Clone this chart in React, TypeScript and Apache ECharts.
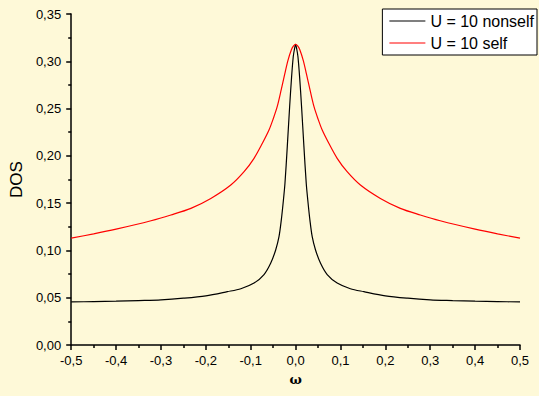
import React, { useEffect, useRef } from "react";
import * as echarts from "echarts";

const seriesNames = ["U = 10 nonself", "U = 10 self"];

const omegaNonself = [
  -0.5, -0.45, -0.4, -0.35, -0.3, -0.25, -0.2, -0.152, -0.122, -0.0926, -0.0704, -0.0556, -0.0444, -0.037, -0.0319, -0.0274, -0.0237, -0.0185, -0.0133, -0.009, -0.0052, -0.0025, 0,
  0.0025, 0.0052, 0.009, 0.0133, 0.0185, 0.0237, 0.0274, 0.0319, 0.037, 0.0444, 0.0556, 0.0704, 0.0926, 0.122, 0.152, 0.2, 0.25, 0.3, 0.35, 0.4, 0.45, 0.5,
];
const dosNonself = [
  0.0455, 0.0459, 0.0463, 0.047, 0.0478, 0.0495, 0.052, 0.0564, 0.0595, 0.0655, 0.0745, 0.0864, 0.1005, 0.1145, 0.132, 0.152, 0.171, 0.21, 0.252, 0.283, 0.305, 0.313, 0.318,
  0.313, 0.305, 0.283, 0.252, 0.21, 0.171, 0.152, 0.132, 0.1145, 0.1005, 0.0864, 0.0745, 0.0655, 0.0595, 0.0564, 0.052, 0.0495, 0.0478, 0.047, 0.0463, 0.0459, 0.0455,
];

const omegaSelf = [
  -0.5, -0.45, -0.4, -0.3222, -0.2778, -0.2333, -0.1889, -0.1444, -0.1148, -0.0926, -0.074, -0.0593, -0.05, -0.041, -0.032, -0.024, -0.017, -0.0096, -0.005, 0,
  0.005, 0.0096, 0.017, 0.024, 0.032, 0.041, 0.05, 0.0593, 0.074, 0.0926, 0.1148, 0.1444, 0.1889, 0.2333, 0.2778, 0.3222, 0.4, 0.45, 0.5,
];
const dosSelf = [
  0.113, 0.1175, 0.1225, 0.1314, 0.1375, 0.1445, 0.155, 0.1692, 0.1833, 0.1974, 0.2133, 0.2273, 0.239, 0.252, 0.27, 0.287, 0.301, 0.312, 0.316, 0.318,
  0.316, 0.312, 0.301, 0.287, 0.27, 0.252, 0.239, 0.2273, 0.2133, 0.1974, 0.1833, 0.1692, 0.155, 0.1445, 0.1375, 0.1314, 0.1225, 0.1175, 0.113,
];

const xTicks = { min: -0.5, max: 0.5, interval: 0.1 };
const yTicks = { min: 0, max: 0.35, interval: 0.05 };

const BG = "#fef9d8";
const FONT = "'Liberation Sans', Arial, sans-serif";

export default function App() {
  const ref = useRef<HTMLDivElement>(null);
  useEffect(() => {
    if (!ref.current) return;
    const chart = echarts.init(ref.current, null, { renderer: "svg" });
    const fmtComma = (d: number) => (v: number) => {
      const s = Math.abs(v) < 1e-9 ? (0).toFixed(d) : v.toFixed(d);
      return s.replace(".", ",");
    };
    const axisCommon = {
      axisLine: { show: true, onZero: false, lineStyle: { color: "#000", width: 1.5 } },
      axisTick: { show: true, inside: false, length: 5, lineStyle: { color: "#000", width: 1.5 } },
      minorTick: { show: true, splitNumber: 2, length: 3, lineStyle: { color: "#000", width: 1.5 } },
      splitLine: { show: false },
    };
    chart.setOption({
      animation: false,
      backgroundColor: BG,
      grid: { left: 70, right: 19, top: 14, bottom: 51, containLabel: false },
      legend: {
        orient: "vertical",
        right: 2,
        top: 9,
        backgroundColor: "#ffffff",
        borderColor: "#000000",
        borderWidth: 1,
        borderRadius: 0,
        padding: [3, 3, 3, 7],
        itemGap: 4,
        itemWidth: 36,
        itemHeight: 1.2,
        icon: "rect",
        textStyle: { fontFamily: FONT, fontSize: 16, color: "#000", lineHeight: 18 },
        data: seriesNames,
      },
      xAxis: {
        type: "value",
        min: xTicks.min,
        max: xTicks.max,
        interval: xTicks.interval,
        name: "ω",
        nameLocation: "middle",
        nameGap: 28,
        nameTextStyle: { fontFamily: "'DejaVu Serif', serif", fontSize: 13, fontWeight: "bold", color: "#000" },
        axisLabel: { formatter: fmtComma(1), fontFamily: FONT, fontSize: 13, color: "#000", margin: 9 },
        ...axisCommon,
      },
      yAxis: {
        type: "value",
        min: yTicks.min,
        max: yTicks.max,
        interval: yTicks.interval,
        name: "DOS",
        nameLocation: "middle",
        nameGap: 44,
        nameRotate: 90,
        nameTextStyle: { fontFamily: FONT, fontSize: 17, color: "#000" },
        axisLabel: { formatter: fmtComma(2), fontFamily: FONT, fontSize: 13, color: "#000", margin: 10 },
        ...axisCommon,
      },
      series: [
        {
          name: seriesNames[0],
          type: "line",
          symbol: "none",
          smooth: 0.3,
          color: "#000000",
          lineStyle: { color: "#000000", width: 1.2 },
          data: omegaNonself.map((x, i) => [x, dosNonself[i]]),
        },
        {
          name: seriesNames[1],
          type: "line",
          symbol: "none",
          smooth: 0.3,
          color: "#ff0000",
          lineStyle: { color: "#ff0000", width: 1.2 },
          data: omegaSelf.map((x, i) => [x, dosSelf[i]]),
        },
      ],
    });
    return () => chart.dispose();
  }, []);
  return (
    <div
      ref={ref}
      style={{ position: "absolute", left: 0, top: 0, width: 539, height: 396 }}
    />
  );
}
